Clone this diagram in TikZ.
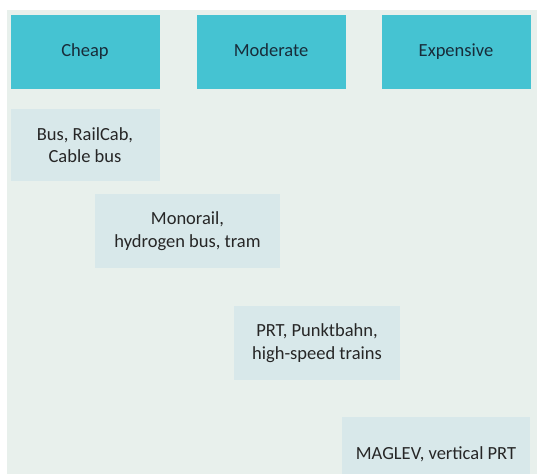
\documentclass[tikz,border=0pt]{standalone}
\usepackage{fontspec}
\setmainfont{Carlito}
\usepackage{tikz}
\usetikzlibrary{positioning}
\definecolor{costteal}{RGB}{69,195,210}
\definecolor{panelgray}{RGB}{232,240,236}
\definecolor{modeblue}{RGB}{216,232,234}
\definecolor{headtext}{RGB}{24,44,58}
\definecolor{modetext}{RGB}{38,38,38}

\begin{document}
\begin{tikzpicture}[
      x=1pt, y=-1pt,
      cost/.style={rectangle, fill=costteal, minimum width=149pt, minimum height=73.5pt, inner sep=0pt, text height=13pt, text depth=4pt, text=headtext, font=\fontsize{18.5}{22}\selectfont},
      mode/.style={rectangle, fill=modeblue, inner sep=0pt, text=modetext, align=center, font=\fontsize{18.5}{22.4}\selectfont}
    ]

    \useasboundingbox (0,0) rectangle (541,474);
    \clip (0,0) rectangle (541,474);
    \fill[panelgray] (7,10) rectangle (537,480);

    % cost classes
    \node[cost] (cheap) at (85,52) {Cheap};
    \node[cost] (moderate) at (271,52) {Moderate};
    \node[cost] (expensive) at (456,52) {Expensive};

    % transport modes
    \node[mode, minimum width=149pt, minimum height=72pt] (bus) at (85,145) {Bus, RailCab,\\Cable bus};
    \node[mode, minimum width=185pt, minimum height=74pt] (monorail) at (187.5,231) {Monorail,\\hydrogen bus, tram};
    \node[mode, minimum width=166pt, minimum height=73.5pt] (prt) at (317,343) {PRT, Punktbahn,\\high-speed trains};
    \node[mode, minimum width=187.5pt, minimum height=74pt] (maglev) at (436,454) {MAGLEV, vertical PRT};
    \end{tikzpicture}
\end{document}
